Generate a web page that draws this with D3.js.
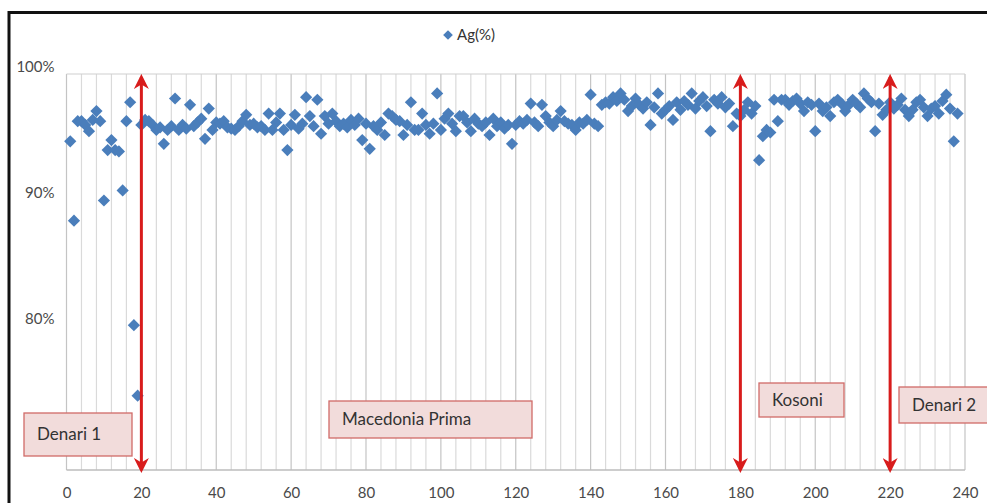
<!DOCTYPE html>
<html>
<head>
<meta charset="utf-8">
<script src="https://cdn.jsdelivr.net/npm/d3@7/dist/d3.min.js"></script>
<style>
  body { margin: 0; background: #fff; }
  svg { display: block; font-family: Lato, "Open Sans", sans-serif; }
</style>
</head>
<body>
<svg id="chart" width="987" height="503"></svg>
<script>
// Ag(%) per sample, samples 1..238
const agValues = [
  94.1, 87.8, 95.7, 95.7, 95.4, 94.9, 95.8, 96.5, 95.7, 89.4,
  93.4, 94.2, 93.4, 93.3, 90.2, 95.7, 97.2, 79.5, 73.9, 95.4,
  95.8, 95.7, 95.4, 95.0, 95.2, 93.9, 95.0, 95.3, 97.5, 95.0,
  95.4, 95.1, 97.0, 95.3, 95.6, 95.9, 94.3, 96.7, 95.0, 95.6,
  95.5, 95.7, 95.2, 95.1, 95.0, 95.3, 95.7, 96.2, 95.4, 95.5,
  95.2, 95.3, 95.0, 96.3, 95.0, 95.6, 96.3, 95.0, 93.4, 95.4,
  96.2, 95.1, 95.5, 97.6, 96.1, 95.3, 97.4, 94.7, 96.1, 95.5,
  96.3, 95.7, 95.3, 95.5, 95.2, 95.8, 95.4, 95.9, 94.2, 95.5,
  93.5, 95.3, 95.0, 95.6, 94.6, 96.3, 96.1, 95.8, 95.7, 94.6,
  95.4, 97.2, 95.0, 95.0, 96.3, 95.4, 94.7, 95.5, 97.9, 95.0,
  95.9, 96.3, 95.5, 94.9, 96.1, 96.1, 95.6, 94.9, 95.9, 95.5,
  95.3, 95.6, 94.6, 95.9, 95.3, 95.6, 95.1, 95.4, 93.9, 95.4,
  95.7, 95.5, 95.8, 97.1, 95.6, 95.3, 97.0, 96.1, 95.6, 95.3,
  95.8, 96.5, 95.7, 95.5, 95.4, 95.0, 95.6, 95.5, 95.8, 97.8,
  95.5, 95.3, 97.0, 97.2, 97.1, 97.6, 97.3, 97.9, 97.4, 96.5,
  96.9, 97.5, 97.0, 96.7, 97.2, 95.4, 96.8, 97.9, 96.3, 96.6,
  96.9, 95.8, 97.2, 96.6, 97.3, 97.0, 97.9, 96.7, 97.3, 97.6,
  96.9, 94.9, 97.4, 97.1, 97.6, 96.8, 97.1, 95.3, 96.3, 96.1,
  96.6, 97.2, 96.3, 96.9, 92.6, 94.5, 95.0, 94.8, 97.4, 95.7,
  97.4, 97.4, 97.0, 97.3, 97.5, 97.1, 96.5, 97.2, 97.0, 94.9,
  97.1, 96.5, 96.8, 96.1, 97.2, 97.4, 97.1, 96.5, 97.0, 97.4,
  97.1, 96.8, 97.9, 97.5, 97.2, 94.9, 97.1, 96.2, 96.6, 97.2,
  96.7, 97.0, 97.5, 96.6, 96.1, 96.6, 97.2, 97.4, 96.8, 96.1,
  96.7, 96.9, 96.3, 97.3, 97.8, 96.7, 94.1, 96.3
];
const xTicks = [0, 20, 40, 60, 80, 100, 120, 140, 160, 180, 200, 220, 240];
const yTicks = [0.8, 0.9, 1.0];
const arrowAt = [20, 180, 220];
const periodNames = ["Denari 1", "Macedonia Prima", "Kosoni", "Denari 2"];
const seriesName = "Ag(%)";

const data = agValues.map((v, i) => ({ n: i + 1, ag: v / 100 }));

const svg = d3.select("#chart");
const plot = { left: 66.5, right: 965, top: 74, bottom: 470 };

const x = d3.scaleLinear().domain([0, 240]).range([plot.left, plot.right]);
const y = d3.scaleLinear().domain([0.68, 1.0]).range([470, 67]);

// outer frame
svg.append("path")
  .attr("d", `M9,510 V12.5 H990`)
  .attr("fill", "none")
  .attr("stroke", "#111")
  .attr("stroke-width", 3);

// vertical gridlines: minor every 4, major every 20
const minor = d3.range(0, 241, 4);
svg.append("g").selectAll("line")
  .data(minor)
  .join("line")
  .attr("x1", d => x(d)).attr("x2", d => x(d))
  .attr("y1", plot.top).attr("y2", plot.bottom)
  .attr("stroke", d => d % 20 === 0 ? "#c4c4c4" : "#dadada")
  .attr("stroke-width", 1.2);

// plot top and bottom borders
svg.append("line")
  .attr("x1", plot.left).attr("x2", plot.right)
  .attr("y1", plot.top).attr("y2", plot.top)
  .attr("stroke", "#d0d0d0").attr("stroke-width", 1.2);
svg.append("line")
  .attr("x1", plot.left).attr("x2", plot.right)
  .attr("y1", plot.bottom).attr("y2", plot.bottom)
  .attr("stroke", "#bdbdbd").attr("stroke-width", 1.5);

// x axis labels
const xAxis = svg.append("g")
  .attr("transform", `translate(0,${plot.bottom})`)
  .call(d3.axisBottom(x).tickValues(xTicks).tickSize(0).tickPadding(17));
xAxis.select(".domain").remove();
xAxis.selectAll("text")
  .style("font-family", "Lato, 'Open Sans', sans-serif")
  .style("font-size", "15px")
  .attr("fill", "#4a4a4a");

// y axis labels
const yAxis = svg.append("g")
  .attr("transform", `translate(${plot.left},0)`)
  .call(d3.axisLeft(y).tickValues(yTicks).tickSize(0).tickPadding(12)
    .tickFormat(d3.format(".0%")));
yAxis.select(".domain").remove();
yAxis.selectAll("text")
  .style("font-family", "Lato, 'Open Sans', sans-serif")
  .style("font-size", "15px")
  .attr("fill", "#4a4a4a");

// data points (diamonds)
const diamond = d3.symbol().type(d3.symbolDiamond2).size(95);
svg.append("g").selectAll("path")
  .data(data)
  .join("path")
  .attr("d", diamond)
  .attr("transform", d => `translate(${x(d.n)},${y(d.ag)})`)
  .attr("fill", "#4a7ebb");

// red double arrows
const defs = svg.append("defs");
defs.append("marker")
  .attr("id", "head")
  .attr("viewBox", "0 0 10 10")
  .attr("refX", 8).attr("refY", 5)
  .attr("markerWidth", 5).attr("markerHeight", 5)
  .attr("markerUnits", "strokeWidth")
  .attr("orient", "auto-start-reverse")
  .append("path")
  .attr("d", "M0,0 L10,5 L0,10 L3,5 Z")
  .attr("fill", "#d81c1c");

svg.append("g").selectAll("line")
  .data(arrowAt)
  .join("line")
  .attr("x1", d => x(d)).attr("x2", d => x(d))
  .attr("y1", 77).attr("y2", 470)
  .attr("stroke", "#d81c1c")
  .attr("stroke-width", 3)
  .attr("marker-start", "url(#head)")
  .attr("marker-end", "url(#head)");

// period labels in pink boxes
const boxes = [
  { name: periodNames[0], x0: 24, y0: 413, w: 108, h: 43 },
  { name: periodNames[1], x0: 329, y0: 401, w: 203, h: 37 },
  { name: periodNames[2], x0: 759, y0: 383, w: 85, h: 34 },
  { name: periodNames[3], x0: 899, y0: 387, w: 95, h: 36 }
];
const bg = svg.append("g").selectAll("g")
  .data(boxes)
  .join("g")
  .attr("transform", d => `translate(${d.x0},${d.y0})`);
bg.append("rect")
  .attr("width", d => d.w).attr("height", d => d.h)
  .attr("fill", "#f2dcdb")
  .attr("stroke", "#d06a68")
  .attr("stroke-width", 1.3);
bg.append("text")
  .attr("x", 13)
  .attr("y", d => d.h / 2 + 5.5)
  .attr("font-size", 17)
  .attr("fill", "#333")
  .text(d => d.name);

// legend
const legend = svg.append("g").attr("transform", "translate(448,35)");
legend.append("path")
  .attr("d", d3.symbol().type(d3.symbolDiamond2).size(60))
  .attr("fill", "#4a7ebb");
legend.append("text")
  .attr("x", 9).attr("y", 5)
  .attr("font-size", 15)
  .attr("fill", "#333")
  .text(seriesName);
</script>
</body>
</html>
